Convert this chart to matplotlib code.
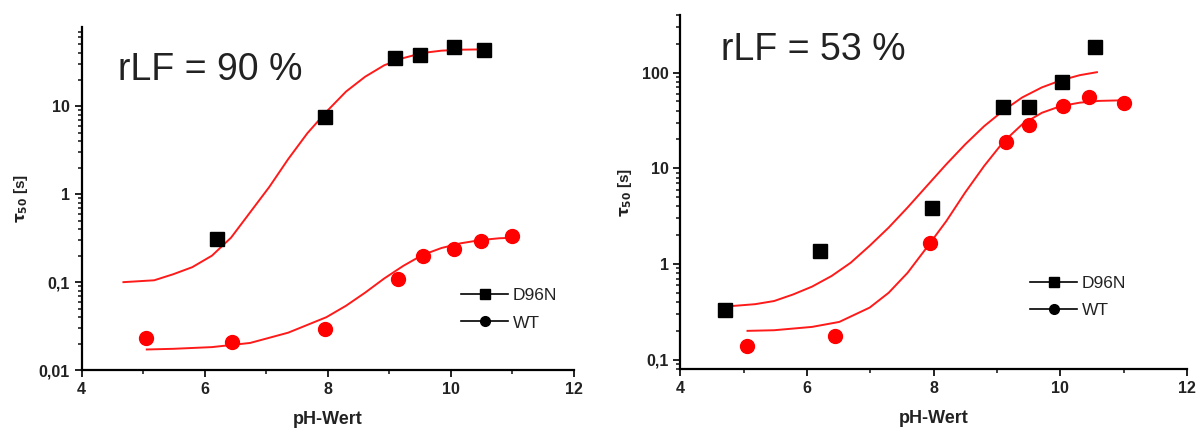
import numpy as np
import matplotlib
matplotlib.use("Agg")
import matplotlib.pyplot as plt
from matplotlib.lines import Line2D
from matplotlib.ticker import FixedLocator, LogLocator, NullFormatter

plt.rcParams["font.family"] = ["Liberation Sans", "DejaVu Sans"]

# --- data ----------------------------------------------------------------
# left panel, rLF = 90 %
left_d96n_ph = [6.2, 7.95, 9.1, 9.5, 10.05, 10.55]
left_d96n_tau = [0.31, 7.5, 35, 38, 47, 43]
left_wt_ph = [5.05, 6.45, 7.95, 9.15, 9.55, 10.05, 10.5, 11.0]
left_wt_tau = [0.0235, 0.021, 0.029, 0.11, 0.20, 0.24, 0.29, 0.33]

left_d96n_fit_ph = [4.68, 5.18, 5.49, 5.8, 6.12, 6.43, 6.74, 7.05, 7.36, 7.67,
                    7.98, 8.3, 8.61, 8.92, 9.23, 9.54, 9.85, 10.16, 10.57]
left_d96n_fit_tau = [0.100, 0.105, 0.123, 0.148, 0.20, 0.32, 0.62, 1.2, 2.5, 4.9,
                     8.6, 14.6, 21.5, 29, 35, 40, 42.5, 43.6, 44]
left_wt_fit_ph = [5.06, 5.49, 6.12, 6.74, 7.36, 7.98, 8.3, 8.61, 8.92, 9.23,
                  9.54, 9.85, 10.16, 10.48, 10.79, 11.04]
left_wt_fit_tau = [0.0172, 0.0175, 0.0183, 0.0204, 0.0267, 0.040, 0.054, 0.076,
                   0.110, 0.153, 0.203, 0.244, 0.276, 0.30, 0.315, 0.32]

# right panel, rLF = 53 %
right_d96n_ph = [4.7, 6.2, 7.98, 9.1, 9.5, 10.03, 10.55]
right_d96n_tau = [0.33, 1.37, 3.8, 44, 44, 79, 187]
right_wt_ph = [5.05, 6.45, 7.95, 9.15, 9.5, 10.05, 10.45, 11.0]
right_wt_tau = [0.14, 0.178, 1.65, 18.7, 28, 45, 56, 48]

right_d96n_fit_ph = [4.69, 5.18, 5.48, 5.78, 6.08, 6.39, 6.69, 6.99, 7.29, 7.59,
                     7.89, 8.2, 8.5, 8.8, 9.1, 9.4, 9.71, 10.01, 10.31, 10.58]
right_d96n_fit_tau = [0.358, 0.38, 0.41, 0.48, 0.58, 0.75, 1.03, 1.55, 2.4, 3.9,
                      6.5, 11, 17.8, 27.6, 40, 55, 70, 83, 94, 101]
right_wt_fit_ph = [5.06, 5.48, 6.08, 6.51, 6.99, 7.29, 7.59, 7.89, 8.2, 8.5,
                   8.8, 9.1, 9.4, 9.71, 10.01, 10.31, 10.61, 10.97]
right_wt_fit_tau = [0.20, 0.203, 0.22, 0.248, 0.35, 0.50, 0.81, 1.48, 2.8, 5.6,
                    10.6, 18.8, 28.8, 38, 44.7, 48.5, 50.6, 51.3]

left_yticks = [0.01, 0.1, 1, 10]
left_ylabels = ["0,01", "0,1", "1", "10"]
right_yticks = [0.1, 1, 10, 100]
right_ylabels = ["0,1", "1", "10", "100"]
xticks = [4, 6, 8, 10, 12]
series_names = ["D96N", "WT"]


def style_axes(ax, ylim, yticks, ylabels):
    ax.set_yscale("log")
    ax.set_xlim(4, 12)
    ax.set_ylim(*ylim)
    for side in ("top", "right"):
        ax.spines[side].set_visible(False)
    for side in ("left", "bottom"):
        ax.spines[side].set_linewidth(1.6)
    ax.xaxis.set_major_locator(FixedLocator(xticks))
    ax.xaxis.set_minor_locator(FixedLocator([5, 7, 9, 11]))
    ax.set_xticklabels([str(t) for t in xticks])
    ax.yaxis.set_major_locator(FixedLocator(yticks))
    ax.set_yticklabels(ylabels)
    ax.yaxis.set_minor_locator(LogLocator(base=10, subs=np.arange(2, 10)))
    ax.yaxis.set_minor_formatter(NullFormatter())
    ax.tick_params(which="major", direction="out", length=5, width=1.4,
                   labelsize=11.5, colors="#222222")
    ax.tick_params(which="minor", direction="out", length=3, width=1.2,
                   colors="#222222")
    for lab in ax.get_xticklabels() + ax.get_yticklabels():
        lab.set_fontweight("bold")
    ax.set_xlabel("pH-Wert", fontsize=13, fontweight="bold", labelpad=10,
                  color="#222222")
    ax.set_ylabel(r"$\mathbf{\tau_{50}}$ [s]", fontsize=11, fontweight="bold",
                  labelpad=6, color="#222222")


def draw_panel(ax, d_ph, d_tau, w_ph, w_tau, fd_ph, fd_tau, fw_ph, fw_tau):
    ax.plot(fd_ph, fd_tau, color="#ff1a1a", lw=1.4, zorder=2)
    ax.plot(fw_ph, fw_tau, color="#ff1a1a", lw=1.4, zorder=2)
    ax.plot(d_ph, d_tau, "s", color="black", ms=10, zorder=3)
    ax.plot(w_ph, w_tau, "o", color="#ff0000", ms=10, zorder=3)


fig = plt.figure(figsize=(12, 4.28), dpi=100)
ax1 = fig.add_axes([0.068, 0.135, 0.41, 0.802])
ax2 = fig.add_axes([0.567, 0.138, 0.422, 0.827])

draw_panel(ax1, left_d96n_ph, left_d96n_tau, left_wt_ph, left_wt_tau,
           left_d96n_fit_ph, left_d96n_fit_tau, left_wt_fit_ph, left_wt_fit_tau)
draw_panel(ax2, right_d96n_ph, right_d96n_tau, right_wt_ph, right_wt_tau,
           right_d96n_fit_ph, right_d96n_fit_tau, right_wt_fit_ph, right_wt_fit_tau)

style_axes(ax1, (0.01, 79), left_yticks, left_ylabels)
style_axes(ax2, (0.08, 400), right_yticks, right_ylabels)

ax1.text(0.073, 0.875, "rLF = 90 %", transform=ax1.transAxes, fontsize=27,
         va="center", ha="left", color="#222222")
ax2.text(0.08, 0.9, "rLF = 53 %", transform=ax2.transAxes, fontsize=27,
         va="center", ha="left", color="#222222")

handles = [
    Line2D([], [], color="black", lw=1.2, marker="s", ms=7),
    Line2D([], [], color="black", lw=1.2, marker="o", ms=7),
]
ax1.legend(handles, series_names, loc="lower left", bbox_to_anchor=(0.74, 0.07),
           frameon=False, fontsize=12.5, handlelength=2.7, handletextpad=0.25,
           labelspacing=0.7, labelcolor="#222222")
ax2.legend(handles, series_names, loc="lower left", bbox_to_anchor=(0.66, 0.1),
           frameon=False, fontsize=12.5, handlelength=2.7, handletextpad=0.25,
           labelspacing=0.7, labelcolor="#222222")

fig.savefig("out.png", dpi=100)
